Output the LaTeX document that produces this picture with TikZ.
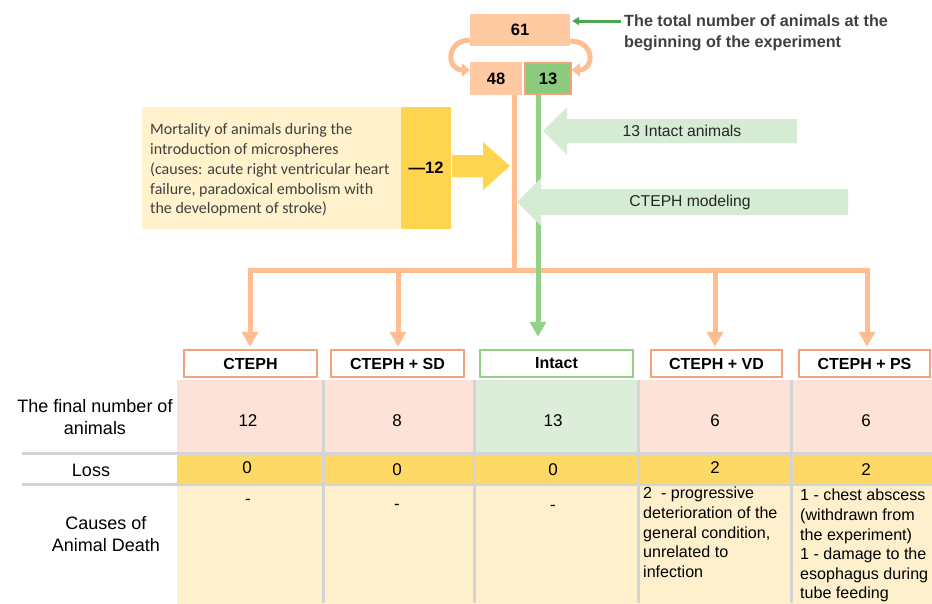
\documentclass[tikz,border=0pt]{standalone}
\usepackage{fontspec}
\setmainfont{Liberation Sans}
\newfontfamily\calib{Carlito}
\usetikzlibrary{arrows.meta}
\definecolor{peach}{HTML}{FFC9A1}
\definecolor{orln}{HTML}{FFBE92}
\definecolor{orbd}{HTML}{F5A27B}
\definecolor{grbox}{HTML}{8CCB7D}
\definecolor{grln}{HTML}{93D286}
\definecolor{grdk}{HTML}{4CA64A}
\definecolor{grlt}{HTML}{D6EBD3}
\definecolor{pinkc}{HTML}{FCE2D7}
\definecolor{grcell}{HTML}{DCEEDA}
\definecolor{goldc}{HTML}{FFD966}
\definecolor{ltyel}{HTML}{FFF0CD}
\definecolor{sepg}{HTML}{D4D4D4}
\definecolor{txtg}{HTML}{404040}
\definecolor{mortbg}{HTML}{FFF2CC}
\definecolor{mortgold}{HTML}{FFD54F}
\begin{document}
\begin{tikzpicture}[x=1pt,y=-1pt,
  numbox/.style={fill=peach, inner sep=0pt, font=\fontsize{16.5}{19}\selectfont\bfseries},
  orline/.style={draw=orln, line width=5pt},
  orarrow/.style={draw=orln, line width=5pt, -{Triangle[length=15pt,width=16pt]}},
  grarrow/.style={draw=grln, line width=5pt, -{Triangle[length=15pt,width=16pt]}},
  orcurve/.style={draw=orln, line width=5pt, -{Triangle[length=8pt,width=13pt]}},
  hdr/.style={draw=orbd, line width=2.5pt, fill=white, minimum height=27pt, inner sep=0pt, font=\fontsize{16}{19}\selectfont\bfseries},
  cell/.style={inner sep=0pt, font=\fontsize{17}{20}\selectfont},
  lbl/.style={align=center, font=\fontsize{18}{22}\selectfont},
  cause/.style={align=left, anchor=north west, inner sep=0pt, font=\fontsize{16.1}{19.6}\selectfont},
  sep/.style={draw=sepg, line width=3pt}
]
\clip (0,0) rectangle (932,603);
\fill[white] (0,0) rectangle (932,603);

% top boxes
\node[numbox, minimum width=100pt, minimum height=32pt] (n61) at (520,30) {61};
\node[numbox, minimum width=52pt, minimum height=33pt] (n48) at (496,78.5) {48};
\node[numbox, fill=grbox, draw=orbd, line width=1.5pt, minimum width=46pt, minimum height=31pt] (n13) at (548,78.5) {13};

% curved arrows
\draw[orcurve] ([yshift=-10pt]n61.west) .. controls (446,40) and (446,70) .. ([yshift=8.5pt]n48.west);
\draw[orcurve] ([yshift=-11pt]n61.east) .. controls (595,41) and (595,70) .. ([yshift=8.5pt]n13.east);

% green arrow to 61 and caption
\coordinate (gst) at (621,21);
\draw[grdk, line width=3pt, -{Triangle[length=7pt,width=8pt]}, shorten >=2pt] (gst) -- ([yshift=9pt]n61.east);
\node[anchor=west, align=left, text=txtg, inner sep=0pt, font=\fontsize{16.2}{21}\selectfont\bfseries] (toptxt) at (624,33)
  {The total number of animals at the\\beginning of the experiment};

% mortality box
\node[fill=mortbg, minimum width=259pt, minimum height=122pt, inner sep=0pt] (mort) at (271.5,168) {};
\node[anchor=west, align=left, inner sep=0pt, text=txtg, font=\calib\fontsize{16}{19.8}\selectfont] (morttxt) at (150,170)
  {Mortality of animals during the\\introduction of microspheres\\(causes: acute right ventricular heart\\failure, paradoxical embolism with\\the development of stroke)};
\node[fill=mortgold, minimum width=50pt, minimum height=122pt, inner sep=0pt, font=\fontsize{16.5}{19}\selectfont\bfseries] (m12) at (426,168) {---12};
\fill[mortgold] (452,155) -- (483,155) -- (483,142) -- (510,166) -- (483,190) -- (483,177) -- (452,177) -- cycle;

% header boxes
\node[hdr, minimum width=133pt] (h1) at (250.5,363.5) {CTEPH};
\node[hdr, minimum width=133pt] (h2) at (397.5,363.5) {CTEPH + SD};
\node[hdr, draw=grln, minimum width=153pt] (h3) at (556.5,363.5) {Intact};
\node[hdr, minimum width=131pt] (h4) at (716.5,363.5) {CTEPH + VD};
\node[hdr, minimum width=131pt] (h5) at (864.5,363.5) {CTEPH + PS};

% connectors
\coordinate (bus) at (514,270);
\coordinate (busL) at (250,270);
\coordinate (busR) at (867,270);
\coordinate (gx) at (538,270);
\draw[orline] (n48.south -| bus) -- (bus);
\draw[orline, line cap=rect] (busL) -- (busR);
\draw[orarrow, shorten >=2pt] (busL) -- (busL |- h1.north);
\draw[orarrow, shorten >=2pt] (bus -| 398,0) -- (h2.north -| 398,0);
\draw[orarrow, shorten >=2pt] (bus -| 715,0) -- (h4.north -| 715,0);
\draw[orarrow, shorten >=2pt] (busR) -- (busR |- h5.north);
\draw[grarrow, shorten >=12pt] (n13.south -| gx) -- (gx |- h3.north);

% green block arrows
\fill[grlt] (797,119) -- (567,119) -- (567,107) -- (543,131) -- (567,155) -- (567,143) -- (797,143) -- cycle;
\node[font=\fontsize{15.7}{18}\selectfont, text=black!85] (intact) at (682,131) {13 Intact animals};
\fill[grlt] (848,189) -- (541,189) -- (541,178) -- (517,202) -- (541,226) -- (541,215) -- (848,215) -- cycle;
\node[font=\fontsize{15.7}{18}\selectfont, text=black!85] (model) at (690,202) {CTEPH modeling};

% table row 1
\node[cell, fill=pinkc, minimum width=147pt, minimum height=74pt] (r1c1) at (250.5,417) {};
\node[cell, fill=pinkc, minimum width=151pt, minimum height=74pt] (r1c2) at (398.75,417) {};
\node[cell, fill=grcell, minimum width=165pt, minimum height=74pt] (r1c3) at (556.25,417) {};
\node[cell, fill=pinkc, minimum width=153pt, minimum height=74pt] (r1c4) at (715,417) {};
\node[cell, fill=pinkc, minimum width=141pt, minimum height=74pt] (r1c5) at (862,417) {};
\node[cell] (v1) at (248,421) {12};
\node[cell] (v2) at (397,421) {8};
\node[cell] (v3) at (553,421) {13};
\node[cell] (v4) at (715,421) {6};
\node[cell] (v5) at (866,421) {6};
% row 2
\node[cell, fill=goldc, minimum width=147pt, minimum height=31pt] (r2c1) at (250.5,469) {};
\node[cell, fill=goldc, minimum width=151pt, minimum height=31pt] (r2c2) at (398.75,469) {};
\node[cell, fill=goldc, minimum width=165pt, minimum height=31pt] (r2c3) at (556.25,469) {};
\node[cell, fill=goldc, minimum width=153pt, minimum height=31pt] (r2c4) at (715,469) {};
\node[cell, fill=goldc, minimum width=141pt, minimum height=31pt] (r2c5) at (862,469) {};
\node[cell] (l1) at (247,468) {0};
\node[cell] (l2) at (397,470) {0};
\node[cell] (l3) at (553,470) {0};
\node[cell] (l4) at (715,468) {2};
\node[cell] (l5) at (866,470) {2};
% row 3
\node[cell, fill=ltyel, minimum width=147pt, minimum height=122pt] (r3c1) at (250.5,545) {};
\node[cell, fill=ltyel, minimum width=151pt, minimum height=122pt] (r3c2) at (398.75,545) {};
\node[cell, fill=ltyel, minimum width=165pt, minimum height=122pt] (r3c3) at (556.25,545) {};
\node[cell, fill=ltyel, minimum width=153pt, minimum height=122pt] (r3c4) at (715,545) {};
\node[cell, fill=ltyel, minimum width=141pt, minimum height=122pt] (r3c5) at (862,545) {};
\node[cell] (d1) at (248,502) {-};
\node[cell] (d2) at (397,507) {-};
\node[cell] (d3) at (553,508) {-};
\node[cause] (cz4) at (643,487) {2\ \ - progressive\\deterioration of the\\general condition,\\unrelated to\\infection};
\node[cause] (cz5) at (800,489) {1 - chest abscess\\(withdrawn from\\the experiment)\\1 - damage to the\\esophagus during\\tube feeding};

% separators
\draw[sep] (323.5,380) -- (323.5,603);
\draw[sep] (474,380) -- (474,603);
\draw[sep] (638.5,380) -- (638.5,603);
\draw[sep] (791.5,380) -- (791.5,603);
\draw[sep] (22,453.5) -- (932,453.5);
\draw[sep] (22,484.5) -- (932,484.5);

% row labels
\node[lbl] (lab1) at (95,417) {The final number of\\animals};
\node[lbl] (lab2) at (91,470) {Loss};
\node[lbl] (lab3) at (106,534) {Causes of\\Animal Death};
\end{tikzpicture}
\end{document}
